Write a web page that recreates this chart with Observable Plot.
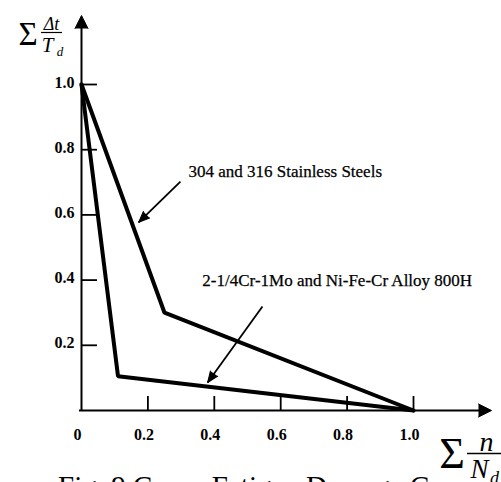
<!DOCTYPE html>
<html><head><meta charset="utf-8">
<script src="https://cdn.jsdelivr.net/npm/d3@7"></script>
<script src="https://cdn.jsdelivr.net/npm/@observablehq/plot@0.6"></script>
<style>
html,body{margin:0;padding:0;background:#fff;overflow:hidden;}
#caption{font-family:"Liberation Serif",serif;font-size:29px;line-height:29px;margin:7px 0 0 58px;white-space:nowrap;color:#000;}
</style></head><body>
<div id="chart"></div>
<div id="caption"></div>
<script>
// ---- data ----
const seriesNames = ["304 and 316 Stainless Steels", "2-1/4Cr-1Mo and Ni-Fe-Cr Alloy 800H"];
const steelsX = [0, 0.25, 1.0];
const steelsY = [1.0, 0.30, 0.0];
const alloyX = [0, 0.11, 1.0];
const alloyY = [1.0, 0.105, 0.0];
const xTicks = [0, 0.2, 0.4, 0.6, 0.8, 1.0];
const xTickLabels = ["0", "0.2", "0.4", "0.6", "0.8", "1.0"];
const yTicks = [0.2, 0.4, 0.6, 0.8, 1.0];
const yTickLabels = ["0.2", "0.4", "0.6", "0.8", "1.0"];
const labelX = [0.322, 0.364];
const labelY = [0.733, 0.40];
const arrowTailX = [0.298, 0.545];
const arrowTailY = [0.702, 0.319];
const arrowTipX = [0.172, 0.380];
const arrowTipY = [0.577, 0.086];
const yTitleParts = ["Σ", "Δt", "T", "d"];
const xTitleParts = ["Σ", "n", "N", "d"];
const captionText = "Fig. 9 Creep-Fatigue Damage C";

// ---- layout ----
const W = 501, H = 465, mL = 81, mR = 88, mT = 84, mB = 55;
const innerW = W - mL - mR, innerH = H - mT - mB;
const ix = px => (px - mL) / innerW;          // pixel -> x value
const iy = py => (H - mB - py) / innerH;      // pixel -> y value
const font = "Liberation Serif";

const table = [];
steelsX.forEach((x, i) => table.push({series: seriesNames[0], x, y: steelsY[i]}));
alloyX.forEach((x, i) => table.push({series: seriesNames[1], x, y: alloyY[i]}));

const arrows = arrowTailX.map((x, i) => {
  const dxp = (arrowTipX[i] - x) * innerW;
  const dyp = -(arrowTipY[i] - arrowTailY[i]) * innerH;
  return {x1: x, y1: arrowTailY[i], x2: arrowTipX[i], y2: arrowTipY[i],
          angle: Math.atan2(dxp, -dyp) * 180 / Math.PI};
});
const labels = seriesNames.map((s, i) => ({text: s, x: labelX[i], y: labelY[i]}));

const txt = (t, px, py, opts) => Plot.text([t], {x: ix(px), y: iy(py), text: d => d,
  fontFamily: font, fill: "black", ...opts});

const chart = Plot.plot({
  width: W, height: H,
  marginLeft: mL, marginRight: mR, marginTop: mT, marginBottom: mB,
  x: {domain: [0, 1], axis: null},
  y: {domain: [0, 1], axis: null},
  style: {overflow: "visible", background: "white"},
  marks: [
    // axes
    Plot.ruleX([0], {y1: 0, y2: iy(24), stroke: "black", strokeWidth: 2}),
    Plot.ruleY([0], {x1: ix(79), x2: ix(480), stroke: "black", strokeWidth: 2}),
    Plot.vector([0], {x: 0, y: iy(15), rotate: 0, anchor: "end", shape: "spike", length: 13, r: 6.5,
      fill: "black", stroke: "black", strokeWidth: 1}),
    Plot.vector([0], {x: ix(491), y: 0, rotate: 90, anchor: "end", shape: "spike", length: 13, r: 6.5,
      fill: "black", stroke: "black", strokeWidth: 1}),
    Plot.ruleY(yTicks, {y: d => d, x1: 0, x2: 16 / innerW, stroke: "black", strokeWidth: 1.8}),
    Plot.ruleX(xTicks.slice(1), {x: d => d, y1: 0, y2: 14 / innerH, stroke: "black", strokeWidth: 1.8}),
    Plot.text(xTicks, {x: d => d, y: 0, text: (d, i) => xTickLabels[i], dy: 24, dx: -4,
      fontFamily: font, fontWeight: "bold", fontSize: 16, fill: "black"}),
    Plot.text(yTicks, {x: 0, y: d => d, text: (d, i) => yTickLabels[i], textAnchor: "end", dx: -7, dy: -2,
      fontFamily: font, fontWeight: "bold", fontSize: 16, fill: "black"}),
    // data
    Plot.line(table, {x: "x", y: "y", z: "series", stroke: "black", strokeWidth: 4, strokeLinejoin: "miter"}),
    // annotations
    Plot.link(arrows, {x1: "x1", y1: "y1", x2: "x2", y2: "y2", stroke: "black", strokeWidth: 1.8}),
    Plot.vector(arrows, {x: "x2", y: "y2", rotate: "angle", anchor: "end", shape: "spike", length: 11, r: 4.5,
      fill: "black", stroke: "black", strokeWidth: 1}),
    Plot.text(labels, {x: "x", y: "y", text: "text", textAnchor: "start", fontFamily: font, fontSize: 17,
      fill: "black", stroke: "black", strokeWidth: 0.25}),
    // y title: Σ Δt / T_d
    txt(yTitleParts[0], 27.5, 34, {fontSize: 33}),
    txt(yTitleParts[1], 51, 24, {fontSize: 18, fontStyle: "italic"}),
    Plot.ruleY([0], {y: iy(32), x1: ix(41), x2: ix(62), stroke: "black", strokeWidth: 1.2}),
    txt(yTitleParts[2], 47, 45, {fontSize: 21, fontStyle: "italic"}),
    txt(yTitleParts[3], 59.5, 51, {fontSize: 13, fontStyle: "italic"}),
    // x title: Σ n / N_d
    txt(xTitleParts[0], 451.5, 453, {fontSize: 44}),
    txt(xTitleParts[1], 486, 442, {fontSize: 28, fontStyle: "italic"}),
    Plot.ruleY([0], {y: iy(453), x1: ix(467), x2: ix(501), stroke: "black", strokeWidth: 1.3}),
    txt(xTitleParts[2], 479, 469, {fontSize: 27, fontStyle: "italic"}),
    txt(xTitleParts[3], 494, 478, {fontSize: 18, fontStyle: "italic"})
  ]
});
document.getElementById("chart").appendChild(chart);
document.getElementById("caption").textContent = captionText;
</script>
</body></html>
